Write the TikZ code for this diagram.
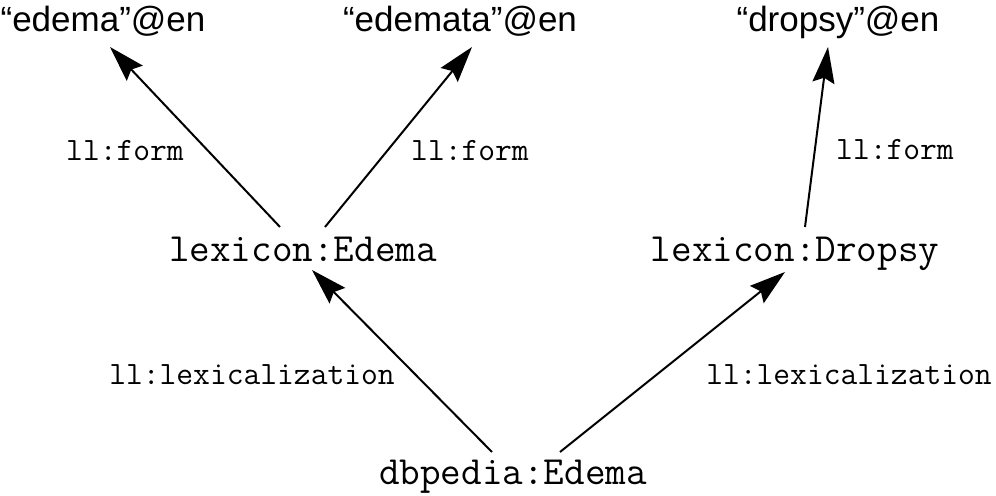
\documentclass[tikz,border=0pt]{standalone}
\usepackage{fontspec}
\setmainfont{Liberation Sans}
\usetikzlibrary{positioning,arrows.meta}

\tikzset{
  literal/.style={anchor=base, inner sep=0pt, font=\fontsize{17.5}{21}\selectfont},
  entity/.style={anchor=base, inner sep=0pt, font=\ttfamily\fontsize{20}{24}\selectfont},
  prop/.style={anchor=base, inner sep=0pt, font=\ttfamily\fontsize{16.3}{19}\selectfont},
  link/.style={line width=1pt, -{Stealth[length=18pt, width=11pt, inset=2.5pt]}}
}

\begin{document}
\begin{tikzpicture}[x=0.5pt, y=-0.5pt]
  \useasboundingbox (0,0) rectangle (996,496);

  % Nodes
  \node[literal] (edema) at (103,32) {``edema''@en};
  \node[literal] (edemata) at (460,32) {``edemata''@en};
  \node[literal] (dropsy) at (838,32) {``dropsy''@en};
  \node[entity] (lexE) at (303,262) {lexicon:Edema};
  \node[entity] (lexD) at (795,262) {lexicon:Dropsy};
  \node[entity] (dbE) at (513,485) {dbpedia:Edema};

  \node[prop] (formA) at (125,161) {ll:form};
  \node[prop] (formB) at (470,161) {ll:form};
  \node[prop] (formC) at (895,160) {ll:form};
  \node[prop] (lexcA) at (252,385) {ll:lexicalization};
  \node[prop] (lexcB) at (849,385) {ll:lexicalization};

  % Arrows
  \draw[link] ([shift={(-23,-35)}]lexE.base) -- ([shift={(7,15)}]edema.base);
  \draw[link] ([shift={(22,-35)}]lexE.base) -- ([shift={(12,15)}]edemata.base);
  \draw[link] ([shift={(10,-35)}]lexD.base) -- ([shift={(-10,15)}]dropsy.base);
  \draw[link] ([shift={(-21,-33)}]dbE.base) -- ([shift={(9,8)}]lexE.base);
  \draw[link] ([shift={(47,-33)}]dbE.base) -- ([shift={(-10,10)}]lexD.base);
\end{tikzpicture}
\end{document}
